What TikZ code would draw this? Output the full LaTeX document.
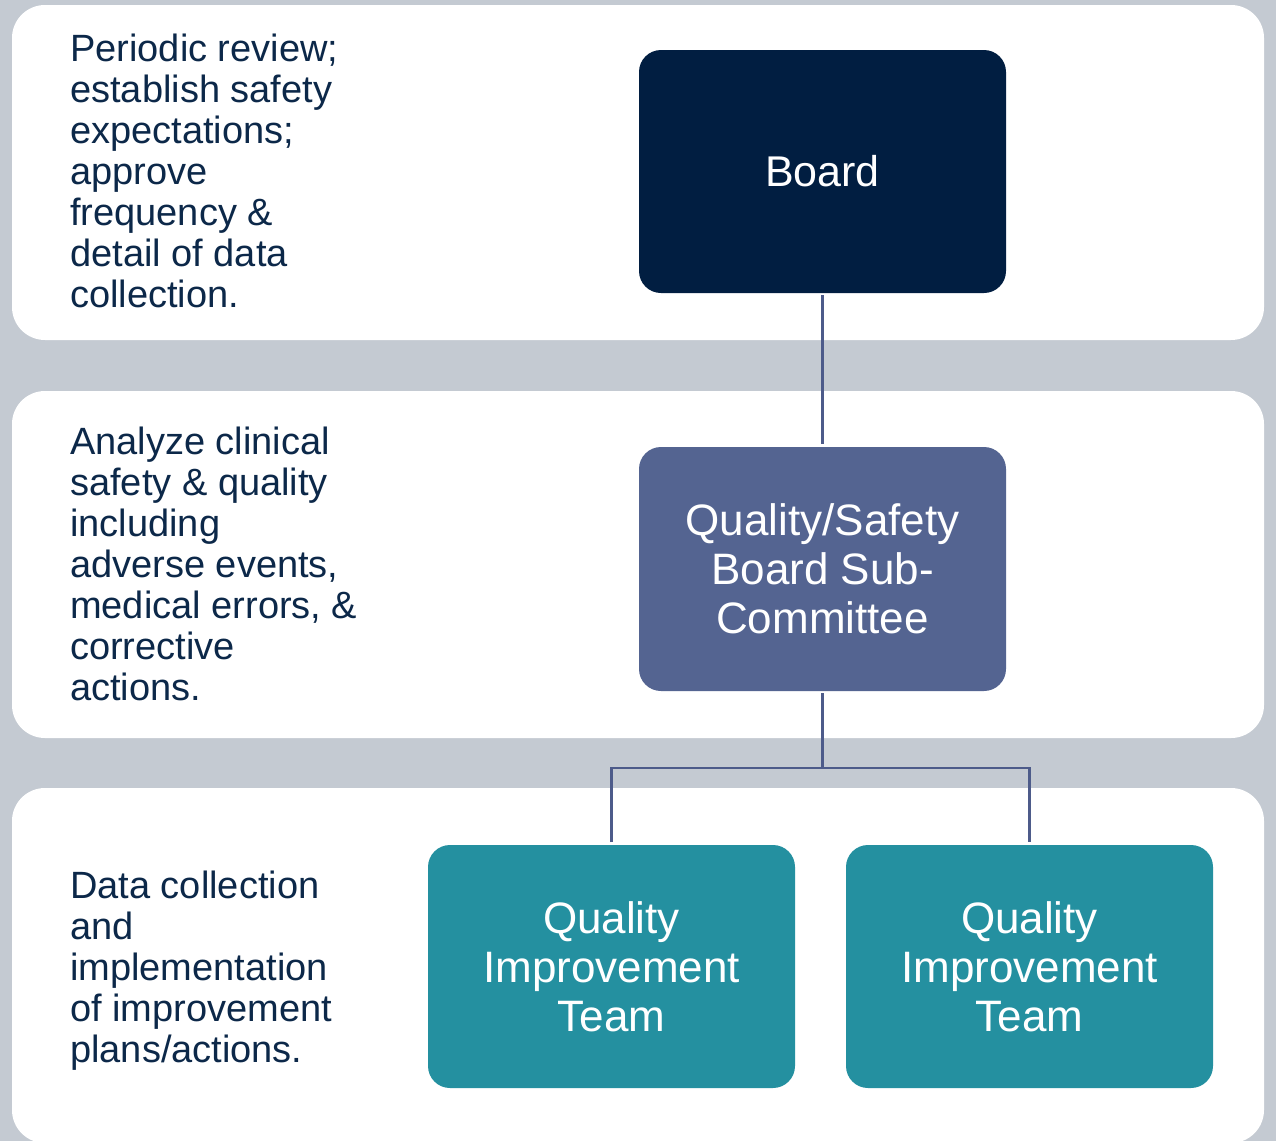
\documentclass[tikz,border=0pt]{standalone}
\usepackage{fontspec}
\setmainfont{Liberation Sans}
\definecolor{bggray}{HTML}{C4CAD2}
\definecolor{boardc}{HTML}{011E41}
\definecolor{subc}{HTML}{546491}
\definecolor{teamc}{HTML}{2490A0}
\definecolor{txtc}{HTML}{0C2849}
\definecolor{linec}{HTML}{4D5B8A}
\begin{document}
\begin{tikzpicture}[x=1pt,y=-1pt,
  panel/.style={fill=white,rounded corners=33pt},
  box/.style={rounded corners=22pt,text=white,align=center,
    font=\fontsize{44}{49}\selectfont},
  desc/.style={anchor=north west,inner sep=0pt,align=left,text=txtc,
    font=\fontsize{38}{41}\selectfont},
  conn/.style={draw=linec,line width=2.5pt}]
\fill[bggray] (0,0) rectangle (1276,1141);
\useasboundingbox (0,0) rectangle (1276,1141);
\fill[panel] (12,5) rectangle (1264,340);
\fill[panel] (12,391) rectangle (1264,738);
\fill[panel] (12,788) rectangle (1264,1143);
% boxes
\fill[boardc,rounded corners=22pt] (639,50) rectangle (1006,293);
\node[box,font=\fontsize{43}{49}\selectfont] (board) at (822.5,171.5) {Board};
\fill[subc,rounded corners=22pt] (639,447) rectangle (1006,691);
\node[box] (sub) at (822.5,569) {Quality/Safety\\Board Sub-\\Committee};
\fill[teamc,rounded corners=22pt] (428,845) rectangle (795,1088);
\node[box] (qit1) at (611.5,966.5) {Quality\\Improvement\\Team};
\fill[teamc,rounded corners=22pt] (846,845) rectangle (1213,1088);
\node[box] (qit2) at (1029.5,966.5) {Quality\\Improvement\\Team};
% connector anchors
\coordinate (bt) at (822.5,295);
\coordinate (st) at (822.5,444);
\coordinate (sb) at (822.5,693);
\coordinate (j) at (822.5,768);
\coordinate (q1t) at (611.5,842);
\coordinate (q2t) at (1029.5,842);
\draw[conn] (bt) -- (st);
\draw[conn] (sb) -- (j);
\draw[conn] (q1t) |- (j) -| (q2t);
% descriptions
\node[desc] (d1) at (70,34) {Periodic review;\\establish safety\\expectations;\\approve\\frequency \&\\detail of data\\collection.};
\node[desc] (d2) at (70,427) {Analyze clinical\\safety \& quality\\including\\adverse events,\\medical errors, \&\\corrective\\actions.};
\node[desc] (d3) at (70,871) {Data collection\\and\\implementation\\of improvement\\plans/actions.};
\end{tikzpicture}
\end{document}
